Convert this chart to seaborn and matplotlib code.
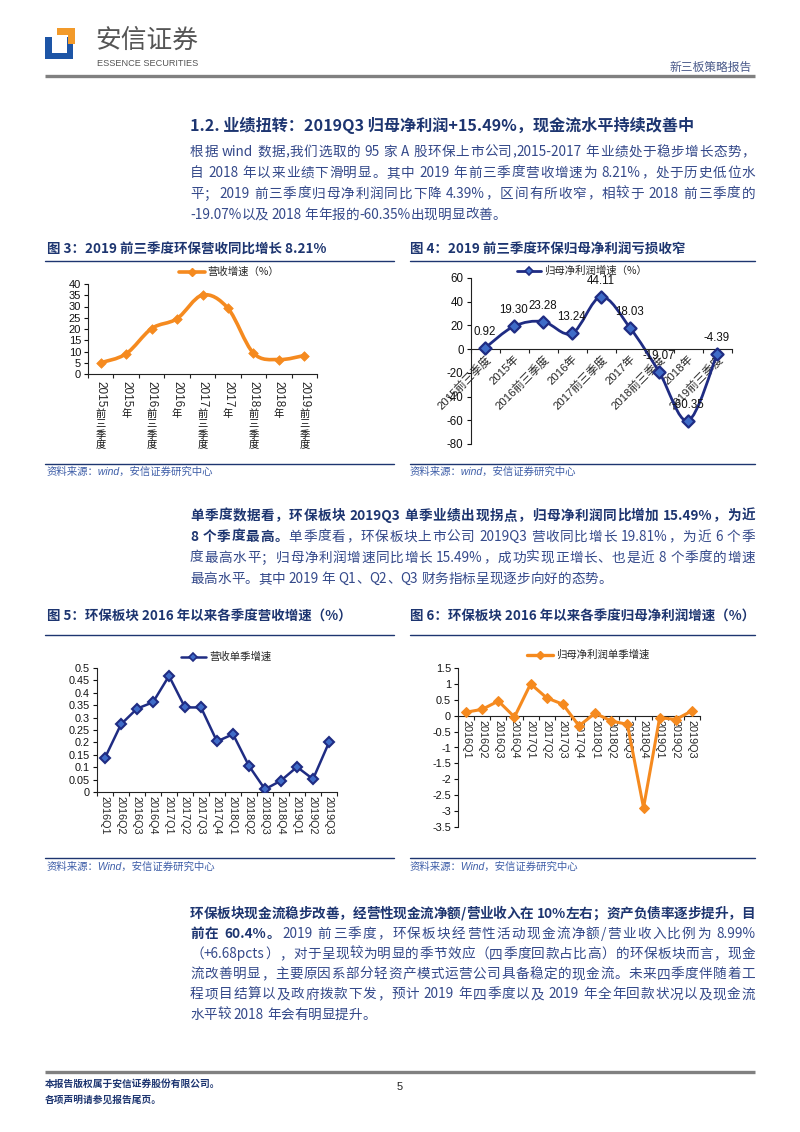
import re
import numpy as np
import pandas as pd
import matplotlib
matplotlib.use('Agg')
import matplotlib.pyplot as plt
import seaborn as sns
from matplotlib.path import Path
from matplotlib.patches import PathPatch, Rectangle, Polygon
from matplotlib.lines import Line2D

sns.set_style('white')
plt.rcParams['font.family'] = ['Liberation Sans', 'Noto Sans CJK SC']
plt.rcParams['axes.unicode_minus'] = False
CJK = ['Noto Sans CJK SC', 'DejaVu Sans']

# ---- data ----
annual_periods = ['2015前三季度', '2015年', '2016前三季度', '2016年', '2017前三季度',
                  '2017年', '2018前三季度', '2018年', '2019前三季度']
revenue_growth = [5.0, 9.0, 20.2, 24.6, 35.1, 29.2, 9.3, 6.4, 8.21]
profit_growth = [0.92, 19.30, 23.28, 13.24, 44.11, 18.03, -19.07, -60.35, -4.39]

quarters = ['2016Q1', '2016Q2', '2016Q3', '2016Q4', '2017Q1', '2017Q2', '2017Q3', '2017Q4',
            '2018Q1', '2018Q2', '2018Q3', '2018Q4', '2019Q1', '2019Q2', '2019Q3']
q_revenue = [0.138, 0.273, 0.336, 0.362, 0.468, 0.341, 0.341, 0.204,
             0.233, 0.105, 0.011, 0.046, 0.101, 0.052, 0.2]
q_profit = [0.11, 0.2, 0.46, -0.04, 1.0, 0.56, 0.36, -0.32,
            0.08, -0.17, -0.27, -2.89, -0.06, -0.12, 0.155]

ORANGE = '#F58A1F'
NAVY = '#1F2C83'
BLUE = '#3F6CC8'
HEAD = '#1D3570'
BODY = '#34498A'
SRC = '#3E5EA8'

W, H = 800, 1132
fig = plt.figure(figsize=(8, 11.32), dpi=100)
bg = fig.add_axes([0, 0, 1, 1], zorder=-1)
bg.set_xlim(0, W)
bg.set_ylim(H, 0)
bg.axis('off')
renderer = fig.canvas.get_renderer()


def add_ax(l, t, r, b):
    return fig.add_axes([l / W, 1 - b / H, (r - l) / W, (b - t) / H])


def smooth_path(xs, ys):
    # Excel-style smoothed line: Catmull-Rom segments as cubic Bezier
    p = np.column_stack([xs, ys]).astype(float)
    ext = np.vstack([p[0], p, p[-1]])
    verts, codes = [tuple(p[0])], [Path.MOVETO]
    for i in range(1, len(ext) - 2):
        p0, p1, p2, p3 = ext[i - 1], ext[i], ext[i + 1], ext[i + 2]
        c1 = p1 + (p2 - p0) / 6
        c2 = p2 - (p3 - p1) / 6
        verts += [tuple(c1), tuple(c2), tuple(p2)]
        codes += [Path.CURVE4] * 3
    return Path(verts, codes)


_adv_cache = {}


def advance(tok, bold, size):
    # horizontal advance of a token, measured between two reference glyphs
    key = (tok, bold, size)
    if key not in _adv_cache:
        kw = dict(fontsize=size, fontweight='bold' if bold else 'normal', family=CJK)
        t1 = bg.text(0, 0, '中' + tok + '中', **kw)
        t2 = bg.text(0, 0, '中中', **kw)
        _adv_cache[key] = t1.get_window_extent(renderer).width - t2.get_window_extent(renderer).width
        t1.remove()
        t2.remove()
    return _adv_cache[key]


TOKEN = re.compile(r'[A-Za-z0-9.%+\-]+|.')


def text_line(y, parts, justify=True, x0=190, x1=755, size=9.8):
    items = []
    for s, bold in parts:
        for tok in TOKEN.findall(s):
            items.append((tok, bold))
    advs = [advance(tok, b, size) for tok, b in items]
    gap = (x1 - x0 - sum(advs)) / (len(items) - 1) if justify else 0
    x = x0
    base = y + 0.34 * size * 100 / 72
    for (tok, bold), a in zip(items, advs):
        if tok != ' ':
            bg.text(x, base, tok, fontsize=size, color=HEAD if bold else BODY,
                    fontweight='bold' if bold else 'normal', va='baseline', ha='left', family=CJK)
        x += a + gap


def style_axis(ax, ylim, yticks, fs=8):
    ax.set_ylim(*ylim)
    ax.set_yticks(yticks)
    ax.set_yticklabels([('%g' % v) for v in yticks], fontsize=fs)
    for s in ['top', 'right']:
        ax.spines[s].set_visible(False)
    for s in ['left', 'bottom']:
        ax.spines[s].set_color('#222222')
        ax.spines[s].set_linewidth(0.8)
    ax.tick_params(axis='y', length=3, width=0.8, pad=2, colors='#111111', direction='out', left=True)
    ax.set_xlabel('')
    ax.set_ylabel('')
    ax.set_facecolor('none')


def cat_axis(ax, n):
    ax.set_xlim(-0.5, n - 0.5)
    ax.set_xticks(np.arange(n))
    ax.set_xticks(np.arange(n + 1) - 0.5, minor=True)
    ax.tick_params(axis='x', which='major', length=0, pad=3)
    ax.tick_params(axis='x', which='minor', length=3, width=0.8, direction='out', bottom=True, colors='#222222')


# ---- header ----
bg.add_patch(Rectangle((45, 37), 28, 22, color='#1D55A6', lw=0))
bg.add_patch(Rectangle((52, 37), 15, 16, color='white', lw=0))
bg.add_patch(Polygon([(57, 28), (75, 28), (75, 44), (68, 44), (68, 35), (57, 35)], color='#F29A2A', lw=0))
bg.text(95, 41, '安信证券', fontsize=18.5, color='#555555', va='center', ha='left', family=CJK)
bg.text(97, 63, 'ESSENCE SECURITIES', fontsize=6.6, color='#555555', va='center', ha='left')
bg.text(752, 67, '新三板策略报告', fontsize=8.5, color='#4A5A8A', va='center', ha='right', family=CJK)
bg.plot([45, 755], [76, 76], color='#808080', lw=2.4, solid_capstyle='butt')

# ---- section text ----
bg.text(190, 125, '1.2. 业绩扭转：2019Q3 归母净利润+15.49%，现金流水平持续改善中',
        fontsize=11.6, fontweight='bold', color=HEAD, va='center', ha='left', family=CJK)
para1 = ['根据 wind 数据,我们选取的 95 家 A 股环保上市公司,2015-2017 年业绩处于稳步增长态势，',
         '自 2018 年以来业绩下滑明显。其中 2019 年前三季度营收增速为 8.21%，处于历史低位水',
         '平；2019 前三季度归母净利润同比下降 4.39%，区间有所收窄，相较于 2018 前三季度的',
         '-19.07%以及 2018 年年报的-60.35%出现明显改善。']
for k, s in enumerate(para1):
    text_line(151 + 21 * k, [(s, False)], justify=k < len(para1) - 1)

# chart captions and rules
captions = [(47, 250, '图 3：2019 前三季度环保营收同比增长 8.21%'),
            (410, 250, '图 4：2019 前三季度环保归母净利润亏损收窄'),
            (47, 617, '图 5：环保板块 2016 年以来各季度营收增速（%）'),
            (410, 617, '图 6：环保板块 2016 年以来各季度归母净利润增速（%）')]
for x, y, s in captions:
    bg.text(x, y, s, fontsize=9.7, fontweight='bold', color=HEAD, va='center', ha='left', family=CJK)
for y in [261, 464, 635, 858]:
    bg.plot([45, 394], [y, y], color=HEAD, lw=1.0)
    bg.plot([410, 755], [y, y], color=HEAD, lw=1.0)
for x, y, s in [(47, 472, '资料来源：wind，安信证券研究中心'), (410, 472, '资料来源：wind，安信证券研究中心'),
                (47, 867, '资料来源：Wind，安信证券研究中心'), (410, 867, '资料来源：Wind，安信证券研究中心')]:
    bg.text(x, y, s, fontsize=7.5, color=SRC, style='italic', va='center', ha='left',
            family=['Liberation Sans', 'Noto Sans CJK SC'])

para2 = [[('单季度数据看，环保板块 2019Q3 单季业绩出现拐点，归母净利润同比增加 15.49%，为近', True)],
         [('8 个季度最高。', True), ('单季度看，环保板块上市公司 2019Q3 营收同比增长 19.81%，为近 6 个季', False)],
         [('度最高水平；归母净利润增速同比增长 15.49%，成功实现正增长、也是近 8 个季度的增速', False)],
         [('最高水平。其中 2019 年 Q1、Q2、Q3 财务指标呈现逐步向好的态势。', False)]]
for k, parts in enumerate(para2):
    text_line(515 + 21 * k, parts, justify=k < len(para2) - 1)

para3 = [[('环保板块现金流稳步改善，经营性现金流净额/营业收入在 10%左右；资产负债率逐步提升，目', True)],
         [('前在 60.4%。', True), ('2019 前三季度，环保板块经营性活动现金流净额/营业收入比例为 8.99%', False)],
         [('（+6.68pcts），对于呈现较为明显的季节效应（四季度回款占比高）的环保板块而言，现金', False)],
         [('流改善明显，主要原因系部分轻资产模式运营公司具备稳定的现金流。未来四季度伴随着工', False)],
         [('程项目结算以及政府拨款下发，预计 2019 年四季度以及 2019 年全年回款状况以及现金流', False)],
         [('水平较 2018 年会有明显提升。', False)]]
for k, parts in enumerate(para3):
    text_line(913 + 20.2 * k, parts, justify=k < len(para3) - 1)

# footer
bg.plot([45, 755], [1072, 1072], color='#808080', lw=2.4, solid_capstyle='butt')
bg.text(45, 1084, '本报告版权属于安信证券股份有限公司。', fontsize=7, fontweight='bold', color=HEAD,
        va='center', ha='left', family=CJK)
bg.text(45, 1100, '各项声明请参见报告尾页。', fontsize=7, fontweight='bold', color=HEAD,
        va='center', ha='left', family=CJK)
bg.text(400, 1087, '5', fontsize=8, color='#222222', va='center', ha='center')

# ---- Figure 3 ----
ax3 = add_ax(88, 284, 317, 374)
x3 = np.arange(len(annual_periods))
ax3.add_patch(PathPatch(smooth_path(x3, revenue_growth), fill=False, edgecolor=ORANGE, lw=2.6,
                        capstyle='round', zorder=2))
sns.scatterplot(x=x3, y=revenue_growth, marker='D', s=24, color=ORANGE, edgecolor=ORANGE,
                linewidth=0.5, ax=ax3, zorder=3)
style_axis(ax3, (0, 40), np.arange(0, 41, 5))
cat_axis(ax3, len(annual_periods))
ax3.set_xticklabels([])
for i, lab in enumerate(annual_periods):
    year, rest = re.match(r'(\d+)(.*)', lab).groups()
    ax3.annotate(year, xy=(i, 0), xycoords=('data', 'axes fraction'), xytext=(0, -5),
                 textcoords='offset points', rotation=-90, ha='center', va='top', fontsize=8.5)
    ax3.annotate('\n'.join(rest), xy=(i, 0), xycoords=('data', 'axes fraction'), xytext=(0, -5 - 20),
                 textcoords='offset points', ha='center', va='top', fontsize=7.4, linespacing=1.05,
                 family=CJK, color='#111111')
h3 = Line2D([], [], color=ORANGE, lw=2.6, marker='D', ms=4.2, mfc=ORANGE, mec=ORANGE)
ax3.legend([h3], ['营收增速（%）'], loc='center', bbox_to_anchor=(229, 272), bbox_transform=bg.transData,
           frameon=False, handlelength=2.5, handletextpad=0.3, prop={'family': CJK, 'size': 7.5})

# ---- Figure 4 ----
ax4 = add_ax(470.5, 278, 731.5, 444)
x4 = np.arange(len(annual_periods))
ax4.add_patch(PathPatch(smooth_path(x4, profit_growth), fill=False, edgecolor=NAVY, lw=2.0, zorder=2))
sns.scatterplot(x=x4, y=profit_growth, marker='D', s=38, color=BLUE, edgecolor=NAVY,
                linewidth=1.6, ax=ax4, zorder=3)
style_axis(ax4, (-80, 60), np.arange(-80, 61, 20), fs=8.3)
cat_axis(ax4, len(annual_periods))
ax4.spines['bottom'].set_position(('data', 0))
ax4.set_xticklabels(annual_periods, rotation=45, ha='right', va='top', rotation_mode='anchor',
                    fontsize=8.2)
for xi, v in zip(x4, profit_growth):
    ax4.annotate('%.2f' % v, xy=(xi, v), xytext=(0, 11.5), textcoords='offset points',
                 ha='center', va='center', fontsize=8.3, color='#111111', zorder=5)
h4 = Line2D([], [], color=NAVY, lw=2.0, marker='D', ms=4.5, mfc=BLUE, mec=NAVY, mew=1.2)
ax4.legend([h4], ['归母净利润增速（%）'], loc='center', bbox_to_anchor=(582, 271), bbox_transform=bg.transData,
           frameon=False, handlelength=2.3, handletextpad=0.3, prop={'family': CJK, 'size': 7.5})

# ---- Figure 5 ----
ax5 = add_ax(97, 668, 337, 792)
x5 = np.arange(len(quarters))
sns.lineplot(x=x5, y=q_revenue, ax=ax5, color=NAVY, lw=1.8, marker='D', markersize=5.6,
             markerfacecolor=BLUE, markeredgecolor=NAVY, markeredgewidth=1.5, zorder=3)
style_axis(ax5, (0, 0.5), np.round(np.arange(0, 0.501, 0.05), 2), fs=7.8)
cat_axis(ax5, len(quarters))
ax5.set_xticklabels(quarters, rotation=-90, ha='center', va='top', fontsize=7.8)
h5 = Line2D([], [], color=NAVY, lw=1.8, marker='D', ms=4.2, mfc=BLUE, mec=NAVY, mew=1.2)
ax5.legend([h5], ['营收单季增速'], loc='center', bbox_to_anchor=(226, 657), bbox_transform=bg.transData,
           frameon=False, handlelength=2.4, handletextpad=0.3, prop={'family': CJK, 'size': 7.5})

# ---- Figure 6 ----
ax6 = add_ax(458, 668, 700, 827)
x6 = np.arange(len(quarters))
sns.lineplot(x=x6, y=q_profit, ax=ax6, color=ORANGE, lw=2.2, marker='D', markersize=4.8,
             markerfacecolor=ORANGE, markeredgecolor=ORANGE, zorder=3)
style_axis(ax6, (-3.5, 1.5), np.arange(-3.5, 1.51, 0.5), fs=7.8)
cat_axis(ax6, len(quarters))
ax6.spines['bottom'].set_position(('data', 0))
ax6.set_xticklabels(quarters, rotation=-90, ha='center', va='top', fontsize=7.8)
h6 = Line2D([], [], color=ORANGE, lw=2.4, marker='D', ms=4.2, mfc=ORANGE, mec=ORANGE)
ax6.legend([h6], ['归母净利润单季增速'], loc='center', bbox_to_anchor=(588, 655), bbox_transform=bg.transData,
           frameon=False, handlelength=2.5, handletextpad=0.3, prop={'family': CJK, 'size': 7.5})

fig.savefig('out.png', dpi=100)
